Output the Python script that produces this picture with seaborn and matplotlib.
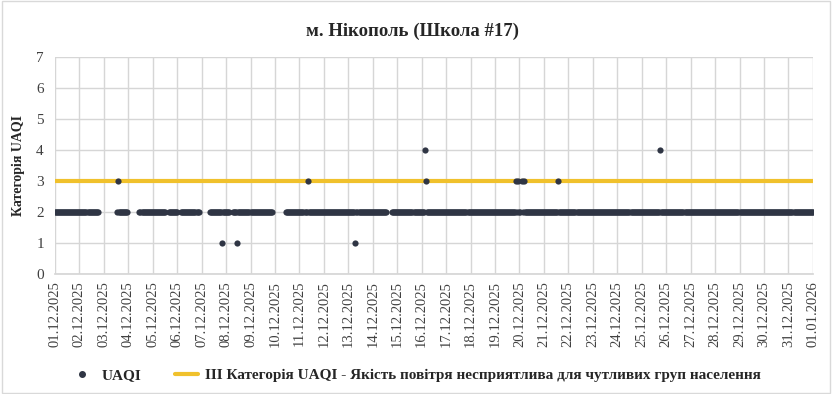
import numpy as np
import pandas as pd
import seaborn as sns
import matplotlib.pyplot as plt
import matplotlib.dates as mdates
from matplotlib.lines import Line2D
from matplotlib.patches import Rectangle

# години від 01.12.2025 00:00, коли UAQI = 2 (суцільні ділянки)
run_starts = [0, 61, 83, 112, 124, 152, 175, 227, 331]
run_ends = [42, 71, 108, 120, 141, 171, 213, 325, 744]
# окремі значення, що відрізняються від 2
spike_hours = [62, 164, 179, 248, 295, 363, 364, 453, 455, 458, 460, 494, 594]
spike_values = [3, 1, 1, 3, 1, 4, 3, 3, 3, 3, 3, 3, 4]
# III категорія UAQI
threshold_dates = ["2025-12-01 00:00", "2026-01-01 00:00"]
threshold_values = [3, 3]

title = "м. Нікополь (Школа #17)"
line_label = "III Категорія UAQI - Якість повітря несприятлива для чутливих груп населення"

start = pd.Timestamp("2025-12-01 00:00")
hours = np.concatenate([np.arange(a, b + 1) for a, b in zip(run_starts, run_ends)])
vals = pd.Series(2, index=hours)
for h, v in zip(spike_hours, spike_values):
    vals.loc[h] = v
vals = vals.sort_index()
df = pd.DataFrame({"time": start + pd.to_timedelta(vals.index, unit="h"), "UAQI": vals.values})
thr = pd.DataFrame({"time": pd.to_datetime(threshold_dates), "value": threshold_values})

sns.set_theme(style="whitegrid")
plt.rcParams['font.family'] = ['Liberation Serif', 'DejaVu Serif']

dark = "#2f3544"
yellow = "#f0c12c"

fig = plt.figure(figsize=(8.32, 3.94), dpi=100)
ax = fig.add_axes([0.066, 0.3046, 0.911, 0.5504])

sns.lineplot(data=thr, x="time", y="value", color=yellow, linewidth=3, ax=ax, legend=False)
sns.scatterplot(data=df, x="time", y="UAQI", color=dark, s=20, linewidth=0, ax=ax, legend=False, zorder=3)

ax.set_xlim(start, pd.Timestamp("2026-01-01 00:00"))
ax.set_ylim(0, 7)
ax.set_yticks(range(8))
ax.xaxis.set_major_locator(mdates.DayLocator())
ax.xaxis.set_major_formatter(mdates.DateFormatter("%d.%m.%Y"))
ax.tick_params(axis="x", rotation=90, labelsize=10.5, length=0, pad=5, colors="#404040")
ax.tick_params(axis="y", labelsize=11, length=0, pad=8, colors="#404040")
ax.grid(color="#d6d6d6", linewidth=1)
for s in ["left", "right", "top"]:
    ax.spines[s].set_visible(False)
ax.spines["bottom"].set_color("#d6d6d6")
ax.set_xlabel("")
ax.set_ylabel("Категорія UAQI", fontsize=10, fontweight="bold", labelpad=8)
ax.set_title(title, fontsize=13.5, fontweight="bold", pad=15, x=0.472)

handles = [Line2D([], [], marker="o", linestyle="", color=dark, markersize=4),
           Line2D([], [], color=yellow, linewidth=3)]
fig.legend(handles, ["UAQI", line_label], loc="center", bbox_to_anchor=(0.5, 0.048), ncol=2,
           frameon=False, prop={"weight": "bold", "size": 11}, columnspacing=2.2,
           handlelength=1.5, handletextpad=0.5)

fig.patches.append(Rectangle((0.002, 0.003), 0.996, 0.994, transform=fig.transFigure,
                             fill=False, edgecolor="#d9d9d9", linewidth=1))
fig.savefig("out.png", dpi=100)
